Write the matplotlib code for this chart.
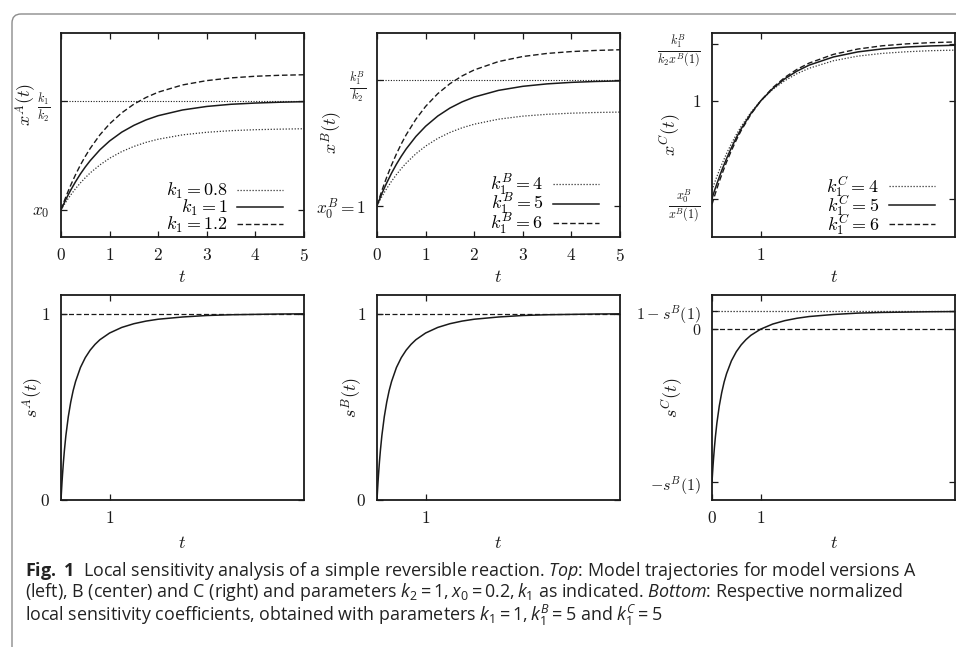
import matplotlib
matplotlib.use("Agg")
import matplotlib.pyplot as plt
from matplotlib.patches import FancyBboxPatch
from matplotlib.transforms import IdentityTransform

# values
t_top = [0, 0.05, 0.1, 0.15, 0.2, 0.3, 0.4, 0.5, 0.6, 0.8, 1.0, 1.25, 1.5,
         1.75, 2.0, 2.5, 3.0, 3.5, 4.0, 4.5, 5.0]

xA_low = [0.200, 0.229, 0.257, 0.284, 0.309, 0.356, 0.398, 0.436, 0.471, 0.530, 0.579,
          0.628, 0.666, 0.696, 0.719, 0.751, 0.770, 0.782, 0.789, 0.793, 0.796]
xA_mid = [0.200, 0.239, 0.276, 0.311, 0.345, 0.407, 0.464, 0.515, 0.561, 0.641, 0.706,
          0.771, 0.821, 0.861, 0.892, 0.934, 0.960, 0.976, 0.985, 0.991, 0.995]
xA_high = [0.200, 0.249, 0.295, 0.339, 0.381, 0.459, 0.530, 0.593, 0.651, 0.751, 0.832,
           0.913, 0.977, 1.026, 1.065, 1.118, 1.150, 1.170, 1.182, 1.189, 1.193]

xB_low = [1.000, 1.146, 1.286, 1.418, 1.544, 1.778, 1.989, 2.180, 2.354, 2.652, 2.896,
          3.141, 3.331, 3.479, 3.594, 3.754, 3.851, 3.909, 3.945, 3.967, 3.980]
xB_mid = [1.000, 1.195, 1.381, 1.557, 1.725, 2.037, 2.319, 2.574, 2.805, 3.203, 3.528,
          3.854, 4.108, 4.305, 4.459, 4.672, 4.801, 4.879, 4.927, 4.956, 4.973]
xB_high = [1.000, 1.244, 1.476, 1.696, 1.906, 2.296, 2.648, 2.967, 3.256, 3.753, 4.161,
           4.567, 4.884, 5.131, 5.323, 5.590, 5.751, 5.849, 5.908, 5.944, 5.966]

xC_low = [0.345, 0.396, 0.444, 0.490, 0.533, 0.614, 0.687, 0.753, 0.813, 0.916, 1.000,
          1.085, 1.150, 1.201, 1.241, 1.296, 1.330, 1.350, 1.362, 1.370, 1.374]
xC_mid = [0.283, 0.339, 0.391, 0.441, 0.489, 0.577, 0.657, 0.730, 0.795, 0.908, 1.000,
          1.092, 1.164, 1.220, 1.264, 1.324, 1.361, 1.383, 1.397, 1.405, 1.410]
xC_high = [0.240, 0.299, 0.355, 0.408, 0.458, 0.552, 0.636, 0.713, 0.783, 0.902, 1.000,
           1.098, 1.174, 1.233, 1.279, 1.343, 1.382, 1.406, 1.420, 1.429, 1.434]

t_bot = [0, 0.01, 0.02, 0.03, 0.05, 0.07, 0.1, 0.15, 0.2, 0.25, 0.3, 0.4, 0.5, 0.6,
         0.7, 0.8, 1.0, 1.25, 1.5, 1.75, 2.0, 2.5, 3.0, 3.5, 4.0, 4.5, 5.0]
sA = [0.000, 0.048, 0.092, 0.132, 0.204, 0.266, 0.345, 0.447, 0.525, 0.587, 0.636, 0.711,
      0.764, 0.804, 0.835, 0.860, 0.896, 0.926, 0.946, 0.960, 0.970, 0.982, 0.990, 0.994,
      0.996, 0.998, 0.999]
sB = [0.000, 0.048, 0.092, 0.132, 0.204, 0.266, 0.345, 0.447, 0.525, 0.587, 0.636, 0.711,
      0.764, 0.804, 0.835, 0.860, 0.896, 0.926, 0.946, 0.960, 0.970, 0.982, 0.990, 0.994,
      0.996, 0.998, 0.999]
sC = [-0.896, -0.848, -0.804, -0.764, -0.692, -0.630, -0.551, -0.449, -0.371, -0.309,
      -0.260, -0.185, -0.132, -0.092, -0.061, -0.036, 0.000, 0.030, 0.050, 0.064, 0.074,
      0.086, 0.094, 0.098, 0.100, 0.102, 0.103]

legend_A = [r"$k_1 = 0.8$", r"$k_1 = 1$", r"$k_1 = 1.2$"]
legend_B = [r"$k_1^B = 4$", r"$k_1^B = 5$", r"$k_1^B = 6$"]
legend_C = [r"$k_1^C = 4$", r"$k_1^C = 5$", r"$k_1^C = 6$"]

# reference levels (horizontal lines)
A_steady = 1.0
B_steady = 5.0
s_limit = 1.0
sC_top = 0.104
sC_zero = 0.0

plt.rcParams["mathtext.fontset"] = "cm"
plt.rcParams["font.family"] = ["Open Sans", "DejaVu Sans"]
plt.rcParams["mathtext.rm"] = "Open Sans"
plt.rcParams["mathtext.it"] = "Open Sans:italic"
plt.rcParams["mathtext.bf"] = "Open Sans:bold"

INK = "#1a1a1a"
DOT = (0, (1, 1.4))
DASH = (0, (4, 2))
TICK_FS = 12.5
LAB_FS = 13

fig = plt.figure(figsize=(9.56, 6.47), dpi=100)

W, H = 956, 647
def make_axes(left, top, right, bottom):
    return fig.add_axes([left / W, 1 - bottom / H, (right - left) / W, (bottom - top) / H])

ax_tl = make_axes(61, 33, 304, 237)
ax_tm = make_axes(377, 33, 620, 237)
ax_tr = make_axes(712, 33, 955, 237)
ax_bl = make_axes(61, 295, 304, 500)
ax_bm = make_axes(377, 295, 620, 500)
ax_br = make_axes(712, 295, 955, 500)


def style(ax, xticks, yticks, ylim, ylabel, ylab_pos, xlab_y, ytick_fs=TICK_FS):
    ax.set_xlim(0, 5)
    ax.set_ylim(*ylim)
    ax.set_xticks([v for v, _ in xticks])
    ax.set_xticklabels([s for _, s in xticks], fontsize=TICK_FS)
    ax.set_yticks([v for v, _ in yticks])
    ax.set_yticklabels([s for _, s in yticks], fontsize=ytick_fs)
    ax.tick_params(direction="in", length=4.5, width=0.9, top=True, right=True,
                   colors=INK)
    ax.tick_params(axis="y", pad=8)
    ax.tick_params(axis="x", pad=8)
    for sp in ax.spines.values():
        sp.set_linewidth(1.3)
        sp.set_color(INK)
    ax.set_ylabel(ylabel, fontsize=LAB_FS, va="center", ha="center", color=INK)
    ax.yaxis.set_label_coords(*ylab_pos)
    ax.set_xlabel(r"$t$", fontsize=LAB_FS, va="center", color=INK)
    ax.xaxis.set_label_coords(0.5, xlab_y)


def trio(ax, t, low, mid, high, labels, anchor, spacing):
    h1, = ax.plot(t, low, color="#333333", lw=0.9, ls=DOT)
    h2, = ax.plot(t, mid, color=INK, lw=1.1, ls="-")
    h3, = ax.plot(t, high, color=INK, lw=1.0, ls=DASH)
    ax.legend([h1, h2, h3], labels, loc="lower right", bbox_to_anchor=anchor,
              frameon=False, markerfirst=False, fontsize=LAB_FS, handlelength=2.55,
              handletextpad=0.55, labelspacing=spacing, borderpad=0, borderaxespad=0)


# top row: trajectories
ax_tl.axhline(A_steady, color=INK, lw=0.8, ls=DOT)
trio(ax_tl, t_top, xA_low, xA_mid, xA_high, legend_A, (0.915, 0.01), -0.17)
style(ax_tl, [(i, "$%d$" % i) for i in range(6)],
      [(0.2, r"$x_0$"), (A_steady, r"$\frac{k_1}{k_2}$")],
      (0, 1.5), r"$x^A(t)$", (-0.142, 0.65), -0.196)

ax_tm.axhline(B_steady, color=INK, lw=0.8, ls=DOT)
trio(ax_tm, t_top, xB_low, xB_mid, xB_high, legend_B, (0.915, 0.0), -0.3)
style(ax_tm, [(i, "$%d$" % i) for i in range(6)],
      [(1.0, r"$x_0^B = 1$"), (B_steady, r"$\frac{k_1^B}{k_2}$")],
      (0, 6.5), r"$x^B(t)$", (-0.185, 0.51), -0.196)

trio(ax_tr, t_top, xC_low, xC_mid, xC_high, legend_C, (0.918, 0.0), -0.3)
style(ax_tr, [(1, "$1$")],
      [(xC_mid[0], r"$\frac{x_0^B}{x^B(1)}$"), (1.0, "$1$"),
       (xC_mid[-1] + 0.007, r"$\frac{k_1^B}{k_2 x^B(1)}$")],
      (0, 1.5), r"$x^C(t)$", (-0.173, 0.5), -0.196)

# bottom row: normalized sensitivities
ax_bl.axhline(s_limit, color=INK, lw=0.9, ls=DASH)
ax_bl.plot(t_bot, sA, color=INK, lw=1.1)
style(ax_bl, [(1, "$1$")], [(0, "$0$"), (s_limit, "$1$")],
      (0, 1.1), r"$s^A(t)$", (-0.115, 0.5), -0.21)

ax_bm.axhline(s_limit, color=INK, lw=0.9, ls=DASH)
ax_bm.plot(t_bot, sB, color=INK, lw=1.1)
style(ax_bm, [(1, "$1$")], [(0, "$0$"), (s_limit, "$1$")],
      (0, 1.1), r"$s^B(t)$", (-0.103, 0.5), -0.21)

ax_br.axhline(sC_top, color=INK, lw=0.9, ls=DOT)
ax_br.axhline(sC_zero, color=INK, lw=0.9, ls=DASH)
ax_br.plot(t_bot, sC, color=INK, lw=1.1)
style(ax_br, [(0, "$0$"), (1, "$1$")],
      [(sC[0], r"$-s^B(1)$"), (sC_zero, "$0$"), (sC_top, r"$1-s^B(1)$")],
      (-1.0, 0.2), r"$s^C(t)$", (-0.165, 0.5), -0.21, ytick_fs=11.5)

# figure frame with rounded top-left corner
frame = FancyBboxPatch((12, -30), 1000, H - 14 + 30,
                       boxstyle="round,pad=0,rounding_size=9",
                       transform=IdentityTransform(), fill=False,
                       edgecolor="#8c8c8c", linewidth=1.0)
fig.add_artist(frame)

caption = [
    r"$\mathbf{Fig.\ 1}$  Local sensitivity analysis of a simple reversible reaction. "
    r"$\mathit{Top}$: Model trajectories for model versions A",
    r"(left), B (center) and C (right) and parameters $k_2 = 1, x_0 = 0.2, k_1$ as "
    r"indicated. $\mathit{Bottom}$: Respective normalized",
    r"local sensitivity coefficients, obtained with parameters $k_1 = 1, k_1^B = 5$ "
    r"and $k_1^C = 5$",
]
fig.text(25 / W, 1 - 621 / H, "\n".join(caption), fontsize=12.9, color="#222222",
         va="baseline", ha="left", linespacing=0.97, math_fontfamily="custom")

fig.savefig("out.png", dpi=100)
